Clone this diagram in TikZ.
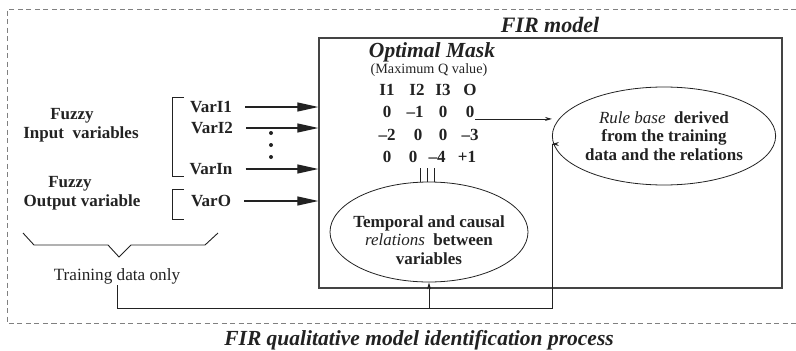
\documentclass[tikz,border=0pt]{standalone}
\usepackage{fontspec}
\setmainfont{Liberation Serif}
\usepackage{xcolor}
\definecolor{darkText}{HTML}{222222}
\definecolor{frameGray}{HTML}{444444}
\definecolor{dashGray}{HTML}{808080}
\usepackage{tikz}
\usetikzlibrary{
    shapes.geometric,
    arrows.meta,
    positioning,
    calc
}
\tikzset{
    % Base style for all texts
    fir base/.style={
        font=\fontsize{17}{18.5}\selectfont\bfseries,
        text=darkText,
        align=center,
        inner sep=1pt,
    },
    % Titles - bold italic
    fir title/.style={
        fir base,
        font=\fontsize{22}{24}\selectfont\bfseries\itshape,
    },
    % Plain upright text
    plain text/.style={
        fir base,
        font=\fontsize{17.2}{19}\selectfont,
    },
    % Entries of the mask
    cell/.style={
        fir base,
    },
    % The FIR model box
    model box/.style={
        draw=frameGray,
        line width=1.3pt,
        minimum width=463pt,
        minimum height=250pt,
        inner sep=0pt,
    },
    % Ellipses inside the model
    oval/.style={
        fir base,
        ellipse,
        draw=darkText,
        line width=0.8pt,
        inner sep=0pt,
    },
    % Outer dashed frame
    process frame/.style={
        draw=dashGray,
        line width=0.8pt,
        dash pattern=on 5pt off 3.5pt,
    },
    % Heavy arrows into the model
    big arrow/.style={
        -{Triangle[length=21pt, width=9pt]},
        line width=1.2pt,
        draw=darkText,
        shorten <=12pt,
    },
    % Thin arrows
    thin arrow/.style={
        -{Stealth[length=7pt, width=4pt]},
        line width=0.8pt,
        draw=darkText,
    },
    % Brackets and brace
    bracket/.style={
        line width=0.9pt,
        draw=darkText,
    },
}

\begin{document}
\begin{tikzpicture}[x=1pt, y=-1pt]
    \useasboundingbox (0,0) rectangle (796,351);

    % Outer process
    \draw[process frame] (796,9) -| (7,323) -- (796,323);
    \node[fir title, anchor=base, font=\fontsize{21.5}{23}\selectfont\bfseries\itshape] (process) at (419,345.5) {FIR qualitative model identification process};

    % FIR model
    \node[model box] (fir) at (550.5,163) {};
    \node[fir title] (firtitle) at (550,25) {FIR model};
    \node[fir title, font=\fontsize{21.5}{23}\selectfont\bfseries\itshape] (mask) at (432,52) {Optimal Mask};
    \node[plain text, font=\fontsize{14.2}{15}\selectfont] (maxq) at (429,70) {(Maximum Q value)};

    \foreach \name/\x/\y/\val in {
        h1/387/90/I1, h2/417/90/I2, h3/443/90/I3, h4/470/90/O,
        m11/387/112/0, m12/415/112/\textendash1, m13/443/112/0, m14/470/112/0,
        m21/387/135/\textendash2, m22/418/135/0, m23/443/135/0, m24/470/135/\textendash3,
        m31/387/157/0, m32/413/157/0, m33/437/157/\textendash4, m34/467/157/+1}
        \node[cell] (\name) at (\x,\y) {\val};

    \node[oval, minimum width=198pt, minimum height=100pt] (rel) at (429,232) {};
    \node[fir base] (reltext) at (429,240) {Temporal and causal\\\textmd{\textit{relations}}\ \ between\\variables};
    \node[oval, minimum width=197pt, minimum height=98pt] (rule) at (664,136)
        {\textmd{\textit{Rule base}}\ \ derived\\from the training\\data and the relations};

    \foreach \dx in {-9,-2,5}
        \draw[bracket] ([xshift=\dx pt]rel.north) -- ++(0,-14);

    % Variables
    \node[fir base] (fuzzyIn) at (72,116) {Fuzzy};
    \node[fir base] (inputVars) at (81,134) {Input\ \ variables};
    \node[fir base] (fuzzyOut) at (70,184) {Fuzzy};
    \node[fir base] (outputVar) at (82,202) {Output variable};

    \node[fir base] (varI1) at (211,107) {VarI1};
    \node[fir base] (varI2) at (212,128) {VarI2};
    \node[fir base] (varIn) at (211,169) {VarIn};
    \node[fir base] (varO) at (211,201) {VarO};

    \foreach \y in {133,145,157}
        \fill[darkText] (271,\y) circle (2pt);

    \draw[bracket] (184,97) -- (172,97) -- (172,176) -- (184,176);
    \draw[bracket] (184,189) -- (172,189) -- (172,219) -- (184,219);
    \draw[bracket] (23,233) -- (34,245) -- (108,245) -- (119,257) -- (131,245) -- (205,245) -- (218,233);

    \node[plain text] (training) at (117,276) {Training data only};
    \coordinate (corner) at (552,308);

    \draw[big arrow] (varI1) -- (varI1 -| fir.west);
    \draw[big arrow] (varI2) -- (varI2 -| fir.west);
    \draw[big arrow] (varIn) -- (varIn -| fir.west);
    \draw[big arrow] (varO) -- (varO -| fir.west);

    \draw[thin arrow] (m14.south east) -- (m14.south east -| rule.west);
    \draw[thin arrow] (training) |- (corner) |- (rule.west |- 0,144);
    \draw[thin arrow] (rel.south |- corner) -- (rel.south);
\end{tikzpicture}
\end{document}
